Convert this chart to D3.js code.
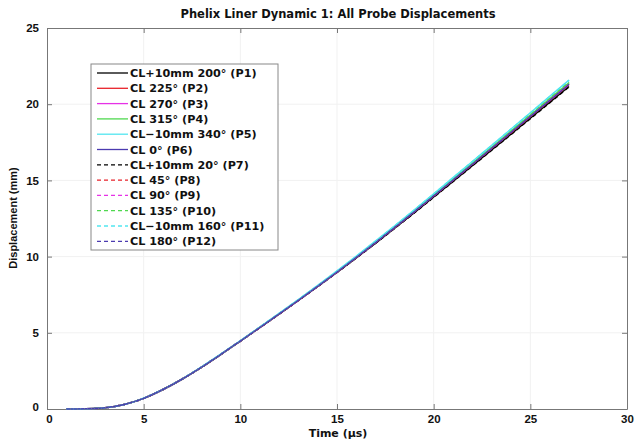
<!DOCTYPE html>
<html>
<head>
<meta charset="utf-8">
<script src="https://cdn.jsdelivr.net/npm/d3@7/dist/d3.min.js"></script>
<style>
  html, body { margin: 0; padding: 0; background: #fff; }
  svg { display: block; }
  text { font-family: "Liberation Sans", Arial, Helvetica, sans-serif; font-weight: bold; fill: #111; }
  text.wide { font-family: "DejaVu Sans", Verdana, sans-serif; }
</style>
</head>
<body>
<svg id="chart" width="636" height="441"></svg>
<script>
// Time samples (µs)
const time = [1, 2, 3, 4, 5, 6, 7, 8, 9, 10, 11, 12, 13, 14, 15, 16, 17, 18, 19, 20, 21, 22, 23, 24, 25, 26, 27];

// Displacement (mm) per probe
const p1  = [0, 0.01, 0.08, 0.30, 0.70, 1.28, 1.97, 2.75, 3.59, 4.46, 5.34, 6.23, 7.13, 8.04, 8.97, 9.92, 10.89, 11.88, 12.89, 13.91, 14.94, 15.97, 17.00, 18.04, 19.08, 20.12, 21.16];
const p2  = [0, 0.01, 0.08, 0.30, 0.70, 1.28, 1.97, 2.75, 3.59, 4.46, 5.34, 6.23, 7.13, 8.05, 8.99, 9.95, 10.93, 11.93, 12.95, 13.98, 15.02, 16.06, 17.10, 18.15, 19.20, 20.25, 21.30];
const p3  = [0, 0.01, 0.08, 0.30, 0.70, 1.28, 1.97, 2.75, 3.59, 4.46, 5.35, 6.24, 7.14, 8.06, 9.00, 9.96, 10.95, 11.95, 12.97, 14.00, 15.05, 16.09, 17.14, 18.19, 19.25, 20.30, 21.36];
const p4  = [0, 0.01, 0.08, 0.30, 0.70, 1.28, 1.97, 2.75, 3.59, 4.46, 5.35, 6.24, 7.14, 8.06, 9.01, 9.97, 10.96, 11.96, 12.98, 14.02, 15.07, 16.12, 17.17, 18.23, 19.29, 20.35, 21.41];
const p5  = [0, 0.01, 0.08, 0.30, 0.71, 1.29, 1.98, 2.77, 3.61, 4.48, 5.37, 6.27, 7.18, 8.11, 9.06, 10.03, 11.03, 12.04, 13.07, 14.12, 15.18, 16.24, 17.30, 18.37, 19.44, 20.51, 21.58];
const p6  = [0, 0.01, 0.08, 0.30, 0.70, 1.28, 1.97, 2.75, 3.59, 4.46, 5.34, 6.23, 7.13, 8.05, 8.99, 9.95, 10.93, 11.93, 12.95, 13.98, 15.02, 16.06, 17.11, 18.16, 19.21, 20.26, 21.31];
const p7  = [0, 0.01, 0.08, 0.30, 0.70, 1.28, 1.97, 2.75, 3.59, 4.46, 5.34, 6.22, 7.12, 8.03, 8.96, 9.91, 10.88, 11.87, 12.87, 13.89, 14.92, 15.95, 16.98, 18.01, 19.05, 20.09, 21.13];
const p8  = [0, 0.01, 0.08, 0.30, 0.70, 1.28, 1.97, 2.75, 3.59, 4.46, 5.34, 6.23, 7.13, 8.05, 8.98, 9.94, 10.92, 11.92, 12.93, 13.96, 15.00, 16.04, 17.08, 18.12, 19.17, 20.22, 21.27];
const p9  = [0, 0.01, 0.08, 0.30, 0.70, 1.28, 1.97, 2.75, 3.59, 4.46, 5.35, 6.24, 7.14, 8.06, 9.00, 9.96, 10.94, 11.94, 12.96, 13.99, 15.04, 16.08, 17.13, 18.18, 19.23, 20.28, 21.34];
const p10 = [0, 0.01, 0.08, 0.30, 0.70, 1.28, 1.97, 2.75, 3.59, 4.46, 5.35, 6.24, 7.15, 8.07, 9.01, 9.98, 10.97, 11.97, 13.00, 14.04, 15.09, 16.14, 17.20, 18.26, 19.32, 20.38, 21.44];
const p11 = [0, 0.01, 0.08, 0.30, 0.71, 1.29, 1.98, 2.77, 3.61, 4.48, 5.37, 6.27, 7.18, 8.10, 9.05, 10.02, 11.02, 12.03, 13.06, 14.11, 15.17, 16.23, 17.29, 18.36, 19.43, 20.50, 21.57];
const p12 = [0, 0.01, 0.08, 0.30, 0.70, 1.28, 1.97, 2.75, 3.59, 4.46, 5.34, 6.23, 7.13, 8.05, 8.98, 9.94, 10.92, 11.92, 12.94, 13.97, 15.01, 16.05, 17.09, 18.14, 19.19, 20.24, 21.29];

const probeNames = [
  "CL+10mm 200\u00B0 (P1)", "CL 225\u00B0 (P2)", "CL 270\u00B0 (P3)", "CL 315\u00B0 (P4)",
  "CL\u221210mm 340\u00B0 (P5)", "CL 0\u00B0 (P6)", "CL+10mm 20\u00B0 (P7)", "CL 45\u00B0 (P8)",
  "CL 90\u00B0 (P9)", "CL 135\u00B0 (P10)", "CL\u221210mm 160\u00B0 (P11)", "CL 180\u00B0 (P12)"
];
const probeValues = [p1, p2, p3, p4, p5, p6, p7, p8, p9, p10, p11, p12];

const xTicks = [0, 5, 10, 15, 20, 25, 30];
const yTicks = [0, 5, 10, 15, 20, 25];

// Styling
const colors = ["#000000", "#e8222a", "#e632e6", "#4fd84f", "#52e6f0", "#4b3bb0",
                "#000000", "#e8222a", "#e632e6", "#4fd84f", "#52e6f0", "#4b3bb0"];
const dashed = [false, false, false, false, false, false, true, true, true, true, true, true];

const svg = d3.select("#chart");
const margin = { left: 47, right: 9, top: 28, bottom: 32 };
const W = 636, H = 441;
const x = d3.scaleLinear().domain([0, 30]).range([margin.left, W - margin.right]);
const y = d3.scaleLinear().domain([0, 25]).range([H - margin.bottom, margin.top]);

// faint grid
const grid = svg.append("g");
grid.selectAll("line.gx").data(xTicks.slice(1, -1)).enter().append("line")
  .attr("x1", d => x(d)).attr("x2", d => x(d))
  .attr("y1", y(0)).attr("y2", y(25))
  .attr("stroke", "#f1f1f1").attr("stroke-width", 1);
grid.selectAll("line.gy").data(yTicks.slice(1, -1)).enter().append("line")
  .attr("x1", x(0)).attr("x2", x(30))
  .attr("y1", d => y(d)).attr("y2", d => y(d))
  .attr("stroke", "#f1f1f1").attr("stroke-width", 1);

// axes (ticks pointing inward, mirrored on all four sides)
const axisColor = "#777";
function styleAxis(g) {
  g.select(".domain").attr("stroke", axisColor);
  g.selectAll(".tick line").attr("stroke", axisColor);
  g.selectAll(".tick text").attr("font-size", 11.5).attr("font-weight", "bold")
    .attr("font-family", "'Liberation Sans', Arial, sans-serif").attr("fill", "#111");
}
const gx = svg.append("g").attr("transform", `translate(0,${y(0)})`)
  .call(d3.axisBottom(x).tickValues(xTicks).tickSizeInner(-5).tickSizeOuter(0).tickPadding(6));
styleAxis(gx);
const gxTop = svg.append("g").attr("transform", `translate(0,${y(25)})`)
  .call(d3.axisTop(x).tickValues(xTicks).tickSizeInner(-5).tickSizeOuter(0).tickFormat(""));
styleAxis(gxTop);
const gy = svg.append("g").attr("transform", `translate(${x(0)},0)`)
  .call(d3.axisLeft(y).tickValues(yTicks).tickSizeInner(-5).tickSizeOuter(0).tickPadding(8));
styleAxis(gy);
const gyRight = svg.append("g").attr("transform", `translate(${x(30)},0)`)
  .call(d3.axisRight(y).tickValues(yTicks).tickSizeInner(-5).tickSizeOuter(0).tickFormat(""));
styleAxis(gyRight);

// nudge the corner zero labels apart
gx.selectAll(".tick text").filter(d => d === 0).attr("dx", 2);
gy.selectAll(".tick text").filter(d => d === 0).attr("dy", "0.1em");

// probe curves
const line = d3.line()
  .x((d, i) => x(time[i]))
  .y(d => y(d))
  .curve(d3.curveMonotoneX);
const curves = svg.append("g");
probeValues.forEach((vals, k) => {
  curves.append("path")
    .datum(vals)
    .attr("d", line)
    .attr("fill", "none")
    .attr("stroke", colors[k])
    .attr("stroke-width", 1.5)
    .attr("stroke-dasharray", dashed[k] ? "4,3" : null);
});

// title and axis labels
svg.append("text").attr("class", "wide").attr("x", 338).attr("y", 18).attr("text-anchor", "middle")
  .attr("font-size", 11.5).text("Phelix Liner Dynamic 1: All Probe Displacements");
svg.append("text").attr("class", "wide").attr("x", 338).attr("y", 437).attr("text-anchor", "middle")
  .attr("font-size", 11).text("Time (\u03BCs)");
svg.append("text").attr("transform", "translate(17,218) rotate(-90)").attr("text-anchor", "middle")
  .attr("font-size", 11).text("Displacement (mm)");

// legend
const lg = svg.append("g");
const lx = 91, ly = 64, lw = 187, lh = 186, rowH = 15.3;
lg.append("rect").attr("x", lx).attr("y", ly).attr("width", lw).attr("height", lh)
  .attr("fill", "#fff").attr("stroke", "#888").attr("stroke-width", 1);
probeNames.forEach((name, k) => {
  const cy = ly + 9 + k * rowH;
  lg.append("line").attr("x1", lx + 6).attr("x2", lx + 37).attr("y1", cy).attr("y2", cy)
    .attr("stroke", colors[k]).attr("stroke-width", 1.3)
    .attr("stroke-dasharray", dashed[k] ? "4,3" : null);
  lg.append("text").attr("class", "wide").attr("x", lx + 39).attr("y", cy + 4)
    .attr("font-size", 11.2).text(name);
});
</script>
</body>
</html>
